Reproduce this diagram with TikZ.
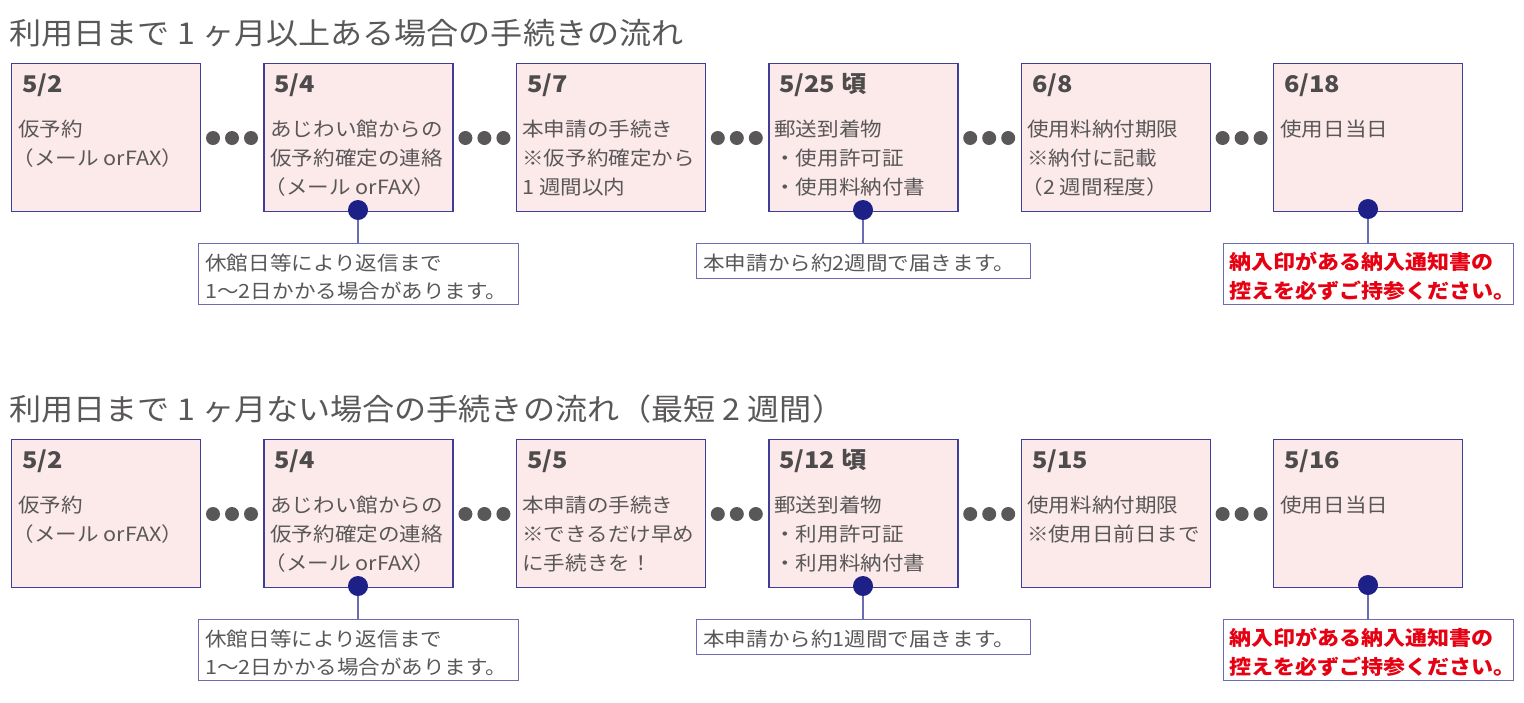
\documentclass[tikz,border=0pt]{standalone}
\usepackage{fontspec}
\setmainfont{Noto Sans CJK JP}
\newfontfamily\bodyf[FakeStretch=1.1]{Noto Sans CJK JP}
\newfontfamily\datef[FakeStretch=1.1]{Noto Sans CJK JP}
\newfontfamily\titlef[FakeStretch=1.07]{Noto Sans CJK JP}
\definecolor{boxfill}{HTML}{FCE9EA}
\definecolor{boxline}{HTML}{3E3E98}
\definecolor{noteline}{HTML}{6C6CB4}
\definecolor{txt}{HTML}{595757}
\definecolor{datec}{HTML}{4D4B4B}
\definecolor{navy}{HTML}{1D2087}
\definecolor{redt}{HTML}{E60012}
\newcommand{\ml}[1]{\begin{tabular}[t]{@{}l@{}}#1\end{tabular}}
\tikzset{
  x=0.5pt, y=-0.5pt,
  stepbox/.style={draw=boxline, line width=0.7pt, fill=boxfill, minimum width=94.5pt, minimum height=74pt, inner sep=0pt, anchor=north west},
  notebox/.style={draw=noteline, line width=0.7pt, fill=white, inner sep=0pt, anchor=north west},
  datetxt/.style={anchor=base west, inner sep=0pt, text=datec, font=\datef\bfseries\fontsize{11.5}{13}\selectfont},
  bodytxt/.style={anchor=base west, inner sep=0pt, text=txt, font=\bodyf\fontsize{9.8}{14.5}\selectfont},
  notetxt/.style={anchor=base west, inner sep=0pt, text=txt, font=\bodyf\fontsize{9.8}{14.2}\selectfont},
  redtxt/.style={anchor=base west, inner sep=0pt, text=redt, font=\bodyf\bfseries\fontsize{10}{14.5}\selectfont},
  titletxt/.style={anchor=base west, inner sep=0pt, text=txt, font=\titlef\fontsize{15}{17}\selectfont},
  dot/.style={circle, fill=txt, inner sep=0pt, minimum size=7pt},
  pin/.style={circle, fill=navy, inner sep=0pt, minimum size=10pt},
  link/.style={draw=noteline, line width=0.7pt}
}
\begin{document}
\begin{tikzpicture}
\useasboundingbox (0,0) rectangle (1524,702);
% titles
\node[titletxt] (t1) at (9,44) {利用日まで 1 ヶ月以上ある場合の手続きの流れ};
\node[titletxt] (t2) at (9,420) {利用日まで 1 ヶ月ない場合の手続きの流れ（最短 2 週間）};
% boxes
\foreach \r/\yy in {1/63, 2/439} {
  \foreach \i in {0,...,5} {
    \node[stepbox] (b\r\i) at ({11+252.4*\i},\yy) {};
  }
  \foreach \i in {0,...,4} {
    \pgfmathsetmacro{\xx}{11+252.4*\i+202}
    \node[dot] (d\r\i a) at (\xx,\yy+75) {};
    \node[dot] (d\r\i b) at (\xx+19,\yy+75) {};
    \node[dot] (d\r\i c) at (\xx+38,\yy+75) {};
  }
}
% row 1 texts
\node[datetxt] (h10) at (22,92) {5/2};
\node[bodytxt] (x10) at (18,136) {\ml{仮予約\\\hspace{-0.3em}（メール orFAX）}};
\node[datetxt] (h11) at (274,92) {5/4};
\node[bodytxt] (x11) at (270,136) {\ml{あじわい館からの\\仮予約確定の連絡\\\hspace{-0.3em}（メール orFAX）}};
\node[datetxt] (h12) at (527,92) {5/7};
\node[bodytxt] (x12) at (522,136) {\ml{本申請の手続き\\※仮予約確定から\\1 週間以内}};
\node[datetxt] (h13) at (779,92) {5/25 頃};
\node[bodytxt] (x13) at (774,136) {\ml{郵送到着物\\・使用許可証\\・使用料納付書}};
\node[datetxt] (h14) at (1032,92) {6/8};
\node[bodytxt] (x14) at (1027,136) {\ml{使用料納付期限\\※納付に記載\\\hspace{-0.3em}（2 週間程度）}};
\node[datetxt] (h15) at (1284,92) {6/18};
\node[bodytxt] (x15) at (1280,136) {使用日当日};
% row 2 texts
\node[datetxt] (h20) at (22,468) {5/2};
\node[bodytxt] (x20) at (18,512) {\ml{仮予約\\\hspace{-0.3em}（メール orFAX）}};
\node[datetxt] (h21) at (274,468) {5/4};
\node[bodytxt] (x21) at (270,512) {\ml{あじわい館からの\\仮予約確定の連絡\\\hspace{-0.3em}（メール orFAX）}};
\node[datetxt] (h22) at (527,468) {5/5};
\node[bodytxt] (x22) at (522,512) {\ml{本申請の手続き\\※できるだけ早め\\に手続きを！}};
\node[datetxt] (h23) at (779,468) {5/12 頃};
\node[bodytxt] (x23) at (774,512) {\ml{郵送到着物\\・利用許可証\\・利用料納付書}};
\node[datetxt] (h24) at (1032,468) {5/15};
\node[bodytxt] (x24) at (1027,512) {\ml{使用料納付期限\\※使用日前日まで}};
\node[datetxt] (h25) at (1284,468) {5/16};
\node[bodytxt] (x25) at (1280,512) {使用日当日};
% notes
\foreach \r/\yy in {1/0, 2/376} {
  \node[notebox, minimum width=160pt, minimum height=30.5pt] (n\r a) at (198,243+\yy) {};
  \node[notebox, minimum width=167pt, minimum height=17.5pt] (n\r b) at (696,243+\yy) {};
  \node[notebox, minimum width=145pt, minimum height=30.5pt] (n\r c) at (1223,243+\yy) {};
  \node[pin] (p\r a) at (358,210+\yy) {};
  \node[pin] (p\r b) at (863,210+\yy) {};
  \node[pin] (p\r c) at (1368,209+\yy) {};
  \draw[link] (p\r a) -- (p\r a |- n\r a.north);
  \draw[link] (p\r b) -- (p\r b |- n\r b.north);
  \draw[link] (p\r c) -- (p\r c |- n\r c.north);
  \node[notetxt] (m\r a) at (205,270+\yy) {\ml{休館日等により返信まで\\1〜2日かかる場合があります。}};
  \node[redtxt] (r\r c) at (1229,269+\yy) {\ml{納入印がある納入通知書の\\控えを必ずご持参ください。}};
}
\node[notetxt] (m1b) at (703,270) {本申請から約2週間で届きます。};
\node[notetxt] (m2b) at (703,646) {本申請から約1週間で届きます。};
\end{tikzpicture}
\end{document}
